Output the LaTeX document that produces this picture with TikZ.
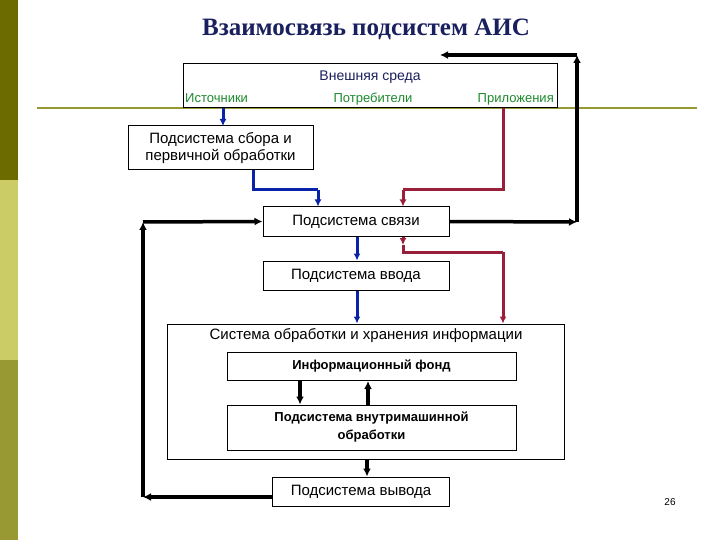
\documentclass[tikz,border=0pt]{standalone}
\usepackage{fontspec}
\setmainfont{Liberation Sans}
\newfontfamily\titlefont{Liberation Serif}
\usetikzlibrary{arrows.meta}
\definecolor{ol1}{HTML}{6B6B00}
\definecolor{ol2}{HTML}{CCCC66}
\definecolor{ol3}{HTML}{999933}
\definecolor{bl}{HTML}{0A22A8}
\definecolor{rd}{HTML}{9A1F3A}
\definecolor{gr}{HTML}{1E8A2E}
\definecolor{tb}{HTML}{1A1F5E}
\begin{document}
\begin{tikzpicture}[x=1pt,y=-1pt,
  box/.style={draw,line width=1pt,fill=white,inner sep=0pt,align=center,font=\fontsize{15}{17}\selectfont},
  blk/.style={line width=3.5pt,-{Latex[length=8pt,width=8pt]}},
  blu/.style={bl,line width=3pt,-{Latex[length=7pt,width=7pt]}},
  red/.style={rd,line width=3pt,-{Latex[length=7pt,width=7pt]}}]
\useasboundingbox (0,0) rectangle (720,540);
\fill[ol1] (0,0) rectangle (18,180);
\fill[ol2] (0,180) rectangle (18,360);
\fill[ol3] (0,360) rectangle (18,540);
\draw[ol3,line width=1.5pt] (37,108) -- (697,108);
\node[font=\titlefont\bfseries\fontsize{25}{28}\selectfont,text=tb] (title) at (366,29) {Взаимосвязь подсистем АИС};
\node[draw,line width=1pt,fill=white,minimum width=374pt,minimum height=44pt,inner sep=0pt] (env) at (370,86) {};
\node[text=tb,font=\fontsize{14}{15}\selectfont] (envt) at (370,77) {Внешняя среда};
\node[text=gr,font=\fontsize{13}{14}\selectfont,anchor=base west,inner sep=1pt] (src) at (184,103) {Источники};
\node[text=gr,font=\fontsize{13}{14}\selectfont,anchor=base,inner sep=1pt] (cons) at (373,103) {Потребители};
\node[text=gr,font=\fontsize{13}{14}\selectfont,anchor=base east,inner sep=1pt] (app) at (555,103) {Приложения};
\node[box,minimum width=185pt,minimum height=44pt] (sbor) at (220.5,148) {Подсистема сбора и\\первичной обработки};
\node[box,minimum width=186pt,minimum height=29pt] (svz) at (356,221.5) {Подсистема связи};
\node[box,minimum width=186pt,minimum height=29pt] (vvod) at (356,275.5) {Подсистема ввода};
\node[box,minimum width=397pt,minimum height=135pt] (big) at (366,391.5) {};
\node[font=\fontsize{15}{17}\selectfont] (bigt) at (366,336) {Система обработки и хранения информации};
\node[box,font=\bfseries\fontsize{13}{15}\selectfont,minimum width=289pt,minimum height=28pt] (fond) at (371.5,366.5) {Информационный фонд};
\node[box,font=\bfseries\fontsize{13}{18}\selectfont,minimum width=289pt,minimum height=45pt] (vnut) at (371.5,427.5) {Подсистема внутримашинной\\обработки};
\node[box,minimum width=177pt,minimum height=29pt] (vyv) at (361,491.5) {Подсистема вывода};
\node[font=\fontsize{10}{12}\selectfont] (num) at (670,502) {26};
\coordinate (c1) at (253,190); \coordinate (c2) at (318,190);
\coordinate (c3) at (503,190); \coordinate (c4) at (403,190);
\coordinate (c5) at (403,252); \coordinate (c6) at (503,252);
\coordinate (r1) at (577,222); \coordinate (r2) at (577,55); \coordinate (r3) at (440,55);
\coordinate (l1) at (143,497); \coordinate (l2) at (143,222);
\draw[blu] (223,108) -- (223,126);
\draw[bl,line width=3pt] (sbor.south -| c1) -- (c1) -- (c2);
\draw[blu] (c2) -- (svz.north -| c2);
\draw[rd,line width=3pt] (env.south -| c3) -- (c3) -- (c4);
\draw[red] (c4) -- (svz.north -| c4);
\draw[blu] (svz.south -| 357,0) -- (vvod.north -| 357,0);
\draw[red] (svz.south -| c5) -- (c5 |- 0,245);
\draw[rd,line width=3pt] (c5 |- 0,245) -- (c5) -- (c6);
\draw[red] (c6) -- (big.north -| c6);
\draw[blu] (vvod.south -| 357,0) -- (big.north -| 357,0);
\draw[blk] (fond.south -| 300,0) -- (vnut.north -| 300,0);
\draw[blk] (vnut.north -| 368,0) -- (fond.south -| 368,0);
\draw[blk] (big.south -| 367,0) -- (vyv.north -| 367,0);
\draw[blk] (svz.east) -- (r1);
\draw[blk] (r1) -- (r2);
\draw[blk] (r2) -- (r3);
\draw[blk] (vyv.west |- l1) -- (l1);
\draw[blk] (l1) -- (l2);
\draw[blk] (l2) -- (svz.west);
\end{tikzpicture}
\end{document}
